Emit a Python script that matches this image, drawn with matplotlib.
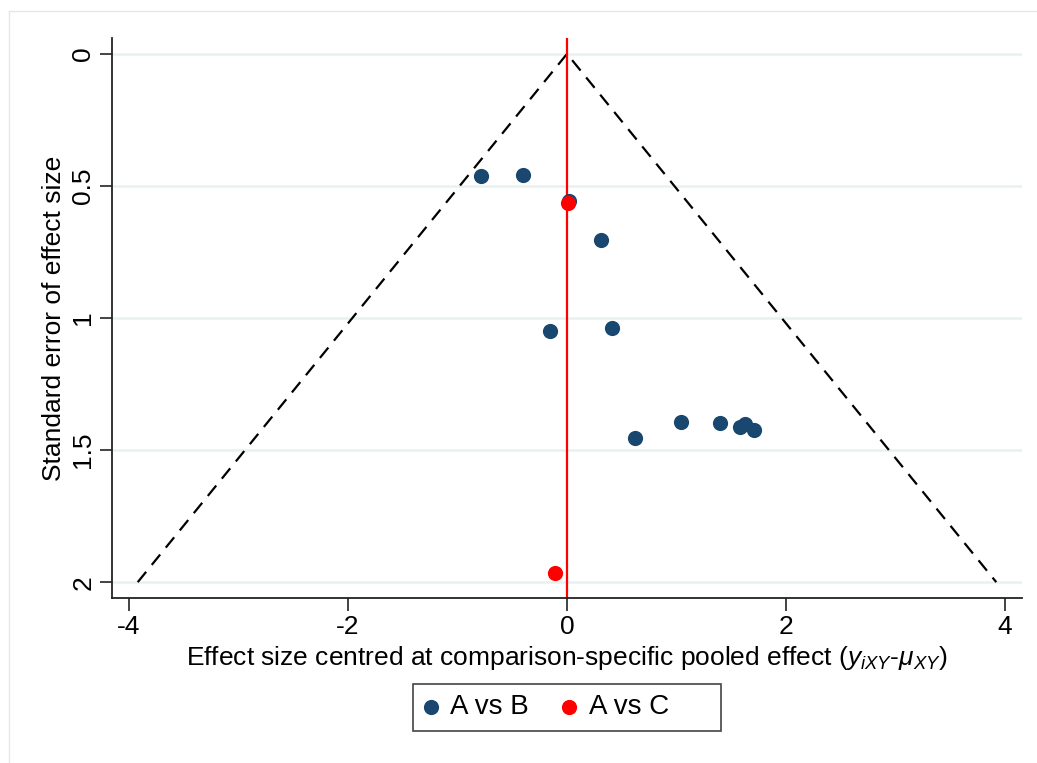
import matplotlib
matplotlib.use("Agg")
import matplotlib.pyplot as plt
from matplotlib.lines import Line2D
from matplotlib.patches import Rectangle

plt.rcParams['font.family'] = ['Liberation Sans', 'DejaVu Sans']
plt.rcParams['mathtext.fontset'] = 'custom'
plt.rcParams['mathtext.it'] = 'Liberation Sans:italic'
plt.rcParams['mathtext.rm'] = 'Liberation Sans'

# Data
ab_x = [-0.785, -0.40, 0.02, 0.31, -0.155, 0.41, 0.62, 1.04, 1.40, 1.58, 1.625, 1.71]
ab_se = [0.462, 0.458, 0.557, 0.705, 1.049, 1.038, 1.455, 1.394, 1.398, 1.413, 1.40, 1.424]
ac_x = [0.01, -0.11]
ac_se = [0.564, 1.966]
se_max = 2.0
z = 1.96
x_ticks = [-4, -2, 0, 2, 4]
y_ticks = [0, 0.5, 1, 1.5, 2]
y_ticklabels = ['0', '0.5', '1', '1.5', '2']

W, H = 1037, 763
fig = plt.figure(figsize=(W / 100, H / 100), dpi=100)
ax = fig.add_axes([112 / W, 1 - 598 / H, (1022 - 112) / W, (598 - 38) / H])

# outer frame lines (top and left)
fig.add_artist(Line2D([9 / W, 1], [1 - 11 / H, 1 - 11 / H], color='#e6e6e6', lw=1))
fig.add_artist(Line2D([9 / W, 9 / W], [1 - 11 / H, 0], color='#e6e6e6', lw=1))

ax.set_xlim(-4.155, 4.155)
ax.set_ylim(2.06, -0.06)

for yv in y_ticks:
    ax.axhline(yv, color='#e9f0f2', lw=1.8, zorder=0)

# funnel
ax.plot([-z * se_max, 0, z * se_max], [se_max, 0, se_max], color='black', lw=1.6,
        dashes=(6, 4), zorder=2)
ax.axvline(0, color='#ff0000', lw=1.6, zorder=2)

ax.scatter(ab_x, ab_se, s=120, color='#1a476f', zorder=3, label='A vs B', linewidths=0)
ax.scatter(ac_x, ac_se, s=120, color='#ff0000', zorder=4, label='A vs C', linewidths=0)

for s in ['top', 'right']:
    ax.spines[s].set_visible(False)
for s in ['left', 'bottom']:
    ax.spines[s].set_linewidth(1.3)
    ax.spines[s].set_color('#222222')

ax.set_xticks(x_ticks)
ax.set_xticklabels([str(t) for t in x_ticks])
ax.set_yticks(y_ticks)
ax.set_yticklabels(y_ticklabels, rotation=90, va='center')
ax.tick_params(axis='both', labelsize=19, length=9, width=1.2, color='#222222', pad=3)

ax.set_xlabel(r'Effect size centred at comparison-specific pooled effect ($y_{iXY}$-$\mu_{XY}$)',
              fontsize=19, labelpad=4)
ax.set_ylabel('Standard error of effect size', fontsize=19, labelpad=4)

# legend frame
fig.add_artist(Rectangle((413 / W, 1 - 731 / H), 308 / W, 47 / H, transform=fig.transFigure,
                         facecolor='white', edgecolor='#444444', lw=1.2, zorder=1))
leg = fig.legend(*ax.get_legend_handles_labels(), loc='center left',
                 bbox_to_anchor=(417 / W, 1 - 707.5 / H),
                 bbox_transform=fig.transFigure, borderaxespad=0, borderpad=0,
                 ncol=2, fontsize=20, frameon=False,
                 handletextpad=0.2, columnspacing=0.95, markerscale=1.0,
                 handlelength=1.0)
leg.set_zorder(2)

fig.savefig('out.png', dpi=100)
